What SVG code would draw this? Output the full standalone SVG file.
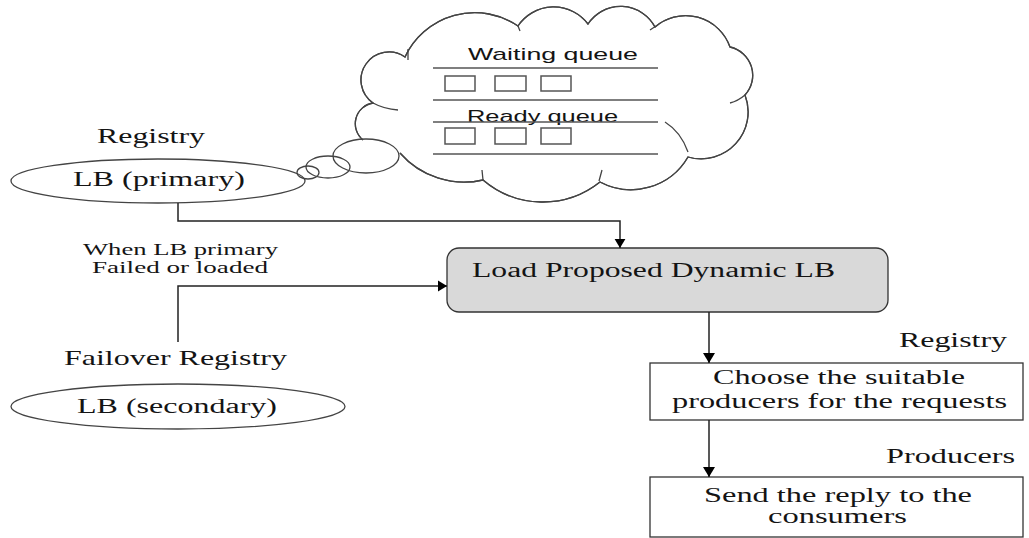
<svg xmlns="http://www.w3.org/2000/svg" width="1029" height="538" viewBox="0 0 1029 538">
<style>
.t{font-family:"Liberation Serif","Times New Roman",serif;font-size:20px;fill:#141414}
.s{font-family:"Liberation Sans",Arial,sans-serif;font-size:17px;fill:#141414}
.ln{stroke:#222;stroke-width:1.5;fill:none}
.q{stroke:#555;stroke-width:1.5;fill:none}
.sh{stroke:#444;stroke-width:1.3;fill:#fff}
.op{stroke:#444;stroke-width:1.3;fill:none}
</style>
<defs>
<marker id="ar" viewBox="0 0 10 12" refX="10" refY="6" markerWidth="9" markerHeight="12" markerUnits="userSpaceOnUse" orient="auto">
<path d="M0,0 L10,6 L0,12 z" fill="#000"/>
</marker>
<marker id="ar2" viewBox="0 0 10 12" refX="10" refY="6" markerWidth="10" markerHeight="13" markerUnits="userSpaceOnUse" orient="auto">
<path d="M0,0 L10,6 L0,12 z" fill="#000"/>
</marker>
</defs>
<rect width="1029" height="538" fill="#fff"/>

<g id="cloud">
<path class="sh" d="M363,140 A21,21 0 0 1 373,103 A28,28 0 0 1 405,57 A77,77 0 0 1 518,26 A43,43 0 0 1 588,24 A39,39 0 0 1 655,27 A47,47 0 0 1 730,47 A29,29 0 0 1 745,95 A47,47 0 0 1 688,157 A66,66 0 0 1 600,182 A92,92 0 0 1 483,180 A85,85 0 0 1 400,153" stroke="none"/>
<path class="op" d="M363,140 A21,21 0 0 1 373,103 A28,28 0 0 1 405,57 A77,77 0 0 1 518,26 A43,43 0 0 1 588,24 A39,39 0 0 1 655,27 A47,47 0 0 1 730,47 A29,29 0 0 1 745,95 A47,47 0 0 1 688,157 A66,66 0 0 1 600,182 A92,92 0 0 1 483,180 A85,85 0 0 1 400,153"/>
<path class="op" d="M373,103 Q384,109 398,110 M408,49 L408,60 M745,95 Q738,101 730,103 M665,122 Q681,132 688,152 M602,170 L599,181 M482,170 L483,180 M650,30 L656,26 M518,26 L520,31"/>
<ellipse class="op" cx="366" cy="156" rx="33" ry="17"/>
<ellipse class="op" cx="328" cy="167" rx="22" ry="11"/>
<ellipse class="op" cx="308" cy="172.5" rx="11" ry="6.5"/>
<text class="s" x="468" y="60" textLength="170" lengthAdjust="spacingAndGlyphs">Waiting queue</text>
<line class="q" x1="433" y1="68" x2="658" y2="68"/>
<rect class="q" x="445" y="76" width="30" height="15"/>
<rect class="q" x="495" y="76" width="31" height="15"/>
<rect class="q" x="541" y="76" width="30" height="15"/>
<line class="q" x1="433" y1="100" x2="658" y2="100"/>
<text class="s" x="467" y="122" textLength="151" lengthAdjust="spacingAndGlyphs">Ready queue</text>
<line class="q" x1="433" y1="122" x2="658" y2="122"/>
<rect class="q" x="445" y="128" width="30" height="16"/>
<rect class="q" x="495" y="128" width="31" height="16"/>
<rect class="q" x="541" y="128" width="30" height="16"/>
<line class="q" x1="433" y1="154" x2="658" y2="154"/>
</g>

<g id="lb-primary">
<text class="t" x="97" y="143" textLength="108" lengthAdjust="spacingAndGlyphs">Registry</text>
<ellipse class="op" cx="158" cy="181" rx="147" ry="22"/>
<text class="t" x="73" y="186" textLength="172" lengthAdjust="spacingAndGlyphs">LB (primary)</text>
</g>

<g id="failover-label">
<text class="t" style="font-size:16px" x="83" y="255" textLength="195" lengthAdjust="spacingAndGlyphs">When LB primary</text>
<text class="t" style="font-size:16px" x="92" y="273" textLength="176" lengthAdjust="spacingAndGlyphs">Failed or loaded</text>
</g>

<g id="lb-secondary">
<text class="t" style="font-size:21px" x="64" y="365" textLength="223" lengthAdjust="spacingAndGlyphs">Failover Registry</text>
<ellipse class="op" cx="178" cy="406.5" rx="167" ry="22.5"/>
<text class="t" x="77" y="413" textLength="200" lengthAdjust="spacingAndGlyphs">LB (secondary)</text>
</g>

<g id="dynamic-lb">
<rect x="447" y="248" width="441" height="64" rx="12" fill="#d9d9d9" stroke="#333" stroke-width="1.3"/>
<text class="t" x="472" y="277" textLength="363" lengthAdjust="spacingAndGlyphs">Load Proposed Dynamic LB</text>
</g>

<g id="choose">
<text class="t" x="899" y="347" textLength="108" lengthAdjust="spacingAndGlyphs">Registry</text>
<rect x="650" y="363" width="373" height="57" fill="#fff" stroke="#333" stroke-width="1.3"/>
<text class="t" x="713" y="384" textLength="252" lengthAdjust="spacingAndGlyphs">Choose the suitable</text>
<text class="t" x="672" y="408" textLength="335" lengthAdjust="spacingAndGlyphs">producers for the requests</text>
</g>

<g id="send">
<text class="t" x="886" y="463" textLength="129" lengthAdjust="spacingAndGlyphs">Producers</text>
<rect x="650" y="477" width="373" height="60" fill="#fff" stroke="#333" stroke-width="1.3"/>
<text class="t" x="704" y="502" textLength="268" lengthAdjust="spacingAndGlyphs">Send the reply to the</text>
<text class="t" x="768" y="523" textLength="139" lengthAdjust="spacingAndGlyphs">consumers</text>
</g>

<g id="connectors">
<polyline class="ln" points="178,203 178,221 620,221 620,248" marker-end="url(#ar)"/>
<polyline class="ln" points="178,342 178,286 447,286" marker-end="url(#ar)"/>
<line class="ln" x1="709" y1="312" x2="709" y2="363" marker-end="url(#ar2)"/>
<line class="ln" x1="709" y1="420" x2="709" y2="477" marker-end="url(#ar2)"/>
</g>
</svg>
